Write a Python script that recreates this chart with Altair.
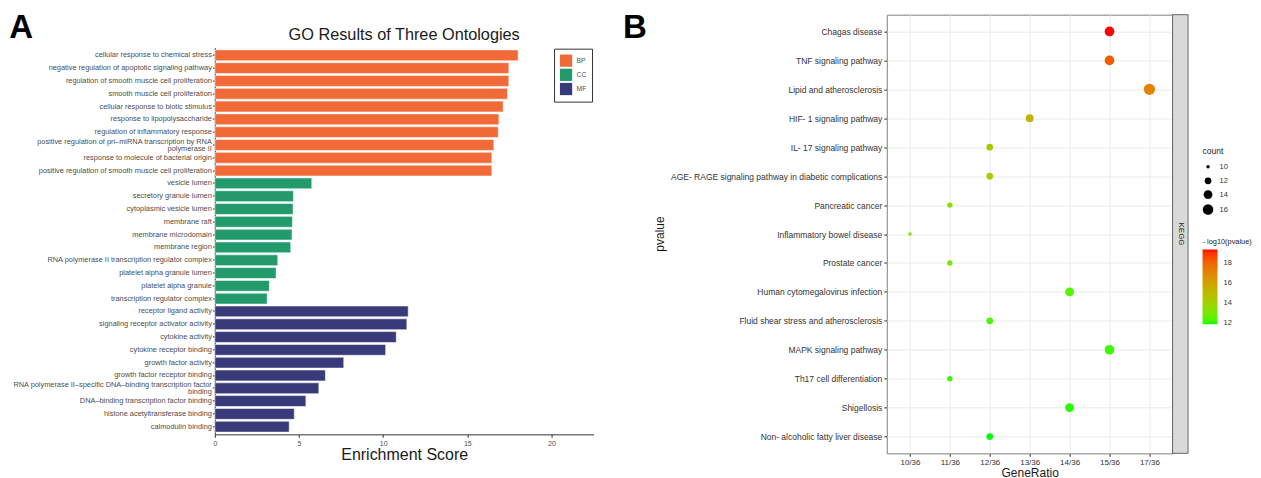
import altair as alt
import pandas as pd

# ---------------- Panel A: GO enrichment ----------------
go_terms = [
    "cellular response to chemical stress",
    "negative regulation of apoptotic signaling pathway",
    "regulation of smooth muscle cell proliferation",
    "smooth muscle cell proliferation",
    "cellular response to biotic stimulus",
    "response to lipopolysaccharide",
    "regulation of inflammatory response",
    "positive regulation of pri–miRNA transcription by RNA\npolymerase II",
    "response to molecule of bacterial origin",
    "positive regulation of smooth muscle cell proliferation",
    "vesicle lumen",
    "secretory granule lumen",
    "cytoplasmic vesicle lumen",
    "membrane raft",
    "membrane microdomain",
    "membrane region",
    "RNA polymerase II transcription regulator complex",
    "platelet alpha granule lumen",
    "platelet alpha granule",
    "transcription regulator complex",
    "receptor ligand activity",
    "signaling receptor activator activity",
    "cytokine activity",
    "cytokine receptor binding",
    "growth factor activity",
    "growth factor receptor binding",
    "RNA polymerase II–specific DNA–binding transcription factor\nbinding",
    "DNA–binding transcription factor binding",
    "histone acetyltransferase binding",
    "calmodulin binding",
]
go_scores = [18.02, 17.47, 17.47, 17.39, 17.13, 16.88, 16.84, 16.58, 16.46, 16.46,
             5.76, 4.67, 4.65, 4.61, 4.59, 4.51, 3.74, 3.64, 3.24, 3.11,
             11.49, 11.41, 10.78, 10.15, 7.66, 6.57, 6.18, 5.41, 4.72, 4.42]
go_ontology = ["BP", "BP", "BP", "BP", "BP", "BP", "BP", "BP", "BP", "BP",
               "CC", "CC", "CC", "CC", "CC", "CC", "CC", "CC", "CC", "CC",
               "MF", "MF", "MF", "MF", "MF", "MF", "MF", "MF", "MF", "MF"]
ont_levels = ["BP", "CC", "MF"]
ont_colors = ["#F26A38", "#229A6C", "#393A79"]
go_ticks = [0, 5, 10, 15, 20]

# ---------------- Panel B: KEGG dot plot ----------------
kegg_terms = [
    "Chagas disease",
    "TNF signaling pathway",
    "Lipid and atherosclerosis",
    "HIF- 1 signaling pathway",
    "IL- 17 signaling pathway",
    "AGE- RAGE signaling pathway in diabetic complications",
    "Pancreatic cancer",
    "Inflammatory bowel disease",
    "Prostate cancer",
    "Human cytomegalovirus infection",
    "Fluid shear stress and atherosclerosis",
    "MAPK signaling pathway",
    "Th17 cell differentiation",
    "Shigellosis",
    "Non- alcoholic fatty liver disease",
]
kegg_ratio = ["15/36", "15/36", "17/36", "13/36", "12/36", "12/36", "11/36", "10/36",
              "11/36", "14/36", "12/36", "15/36", "11/36", "14/36", "12/36"]
kegg_count = [15, 15, 17, 13, 12, 12, 11, 10, 11, 14, 12, 15, 11, 14, 12]
kegg_logp = [19.33, 18.2, 17.1, 15.2, 14.3, 14.2, 13.3, 12.9, 12.8, 12.35,
             12.2, 12.1, 12.05, 11.95, 11.83]
ratio_levels = ["10/36", "11/36", "12/36", "13/36", "14/36", "15/36", "17/36"]
count_legend_values = [10, 12, 14, 16]
logp_legend_values = [12, 14, 16, 18]

FONT = "Liberation Sans"

# ---------------- Build panel A ----------------
A_W, A_H = 379, 420
A_TOP = 33  # space above the bars inside the panel (title area)
df_a = pd.DataFrame({"term": go_terms, "score": go_scores, "ont": go_ontology})

bars = alt.Chart(df_a).mark_bar(stroke="white", strokeWidth=0.7, strokeOpacity=0.8).encode(
    x=alt.X("score:Q",
            scale=alt.Scale(domain=[0, 22.5], nice=False, zero=True),
            axis=alt.Axis(values=go_ticks, title="Enrichment Score", grid=False,
                          titleFontSize=16, titleFontWeight="normal", titleColor="#1A1A1A",
                          titlePadding=0, labelFontSize=7, labelColor="#4D4D4D",
                          labelPadding=2, tickSize=3, tickColor="#333333",
                          domainColor="#333333", labelFlush=False)),
    y=alt.Y("term:N", sort=go_terms,
            scale=alt.Scale(paddingInner=0.15, paddingOuter=0.175, range=[A_TOP, A_H]),
            axis=alt.Axis(title=None, grid=False,
                          labelExpr="split(datum.label, '\\n')",
                          labelOffset={"condition": {"test": "indexof(datum.value, '\\n') >= 0",
                                                     "value": -3},
                                       "value": 0},
                          labelFontSize=7.4, labelColor="#4D4D4D", labelLimit=400,
                          labelLineHeight=7, labelPadding=1, tickSize=2.5,
                          tickColor="#333333", domainColor="#333333")),
    color=alt.Color("ont:N",
                    scale=alt.Scale(domain=ont_levels, range=ont_colors),
                    legend=alt.Legend(title=None, orient="none", legendX=339.5, legendY=34,
                                      strokeColor="#333333", padding=5.5,
                                      symbolType="square", symbolSize=150,
                                      symbolStrokeWidth=0, labelFontSize=6.8,
                                      labelColor="#4D4D4D", labelOffset=4,
                                      rowPadding=1.2)),
)

a_title_df = pd.DataFrame({"t": ["GO Results of Three Ontologies"]})
a_title = alt.Chart(a_title_df).mark_text(
    fontSize=16.3, font=FONT, color="#1A1A1A", align="center", baseline="alphabetic"
).encode(text="t:N", x=alt.value(A_W / 2), y=alt.value(25))

a_letter_df = pd.DataFrame({"t": ["A"]})
a_letter = alt.Chart(a_letter_df).mark_text(
    fontSize=33, font=FONT, fontWeight="bold", color="black", align="left",
    baseline="alphabetic"
).encode(text="t:N", x=alt.value(-205.7), y=alt.value(23.3))

panel_a = alt.layer(bars, a_title, a_letter).properties(width=A_W, height=A_H)

# ---------------- Build panel B ----------------
B_W, B_H = 286, 439
df_b = pd.DataFrame({"term": kegg_terms, "ratio": kegg_ratio,
                     "count": kegg_count, "logp": kegg_logp})

dots = alt.Chart(df_b).mark_circle(opacity=1).encode(
    x=alt.X("ratio:O",
            scale=alt.Scale(type="point", domain=ratio_levels, padding=0.58),
            axis=alt.Axis(title="GeneRatio", labelAngle=0, grid=True, gridColor="#EBEBEB",
                          gridWidth=1, domain=False, labelFontSize=8, labelColor="#333333",
                          labelPadding=2, tickSize=3, tickColor="#333333",
                          titleFontSize=12, titleFontWeight="normal", titleColor="#1A1A1A",
                          titlePadding=1.5)),
    y=alt.Y("term:N", sort=kegg_terms,
            scale=alt.Scale(type="point", padding=0.58),
            axis=alt.Axis(title=None, grid=True, gridColor="#EBEBEB", gridWidth=1,
                          domain=False, labelFontSize=8.5, labelColor="#333333",
                          labelLimit=400, labelPadding=2, tickSize=3, tickColor="#333333")),
    color=alt.Color("logp:Q",
                    scale=alt.Scale(domain=[11.83, 19.33], range=["#00FF00", "#FF0000"],
                                    interpolate="lab"),
                    legend=alt.Legend(title="- log10(pvalue)", orient="none", direction="vertical",
                                      legendX=316, legendY=223.5, values=logp_legend_values,
                                      gradientLength=75, gradientThickness=15,
                                      gradientStrokeWidth=0, titleFontSize=7.4,
                                      titleFontWeight="normal", titleColor="#1A1A1A",
                                      titlePadding=4, labelFontSize=7.5, labelColor="#333333",
                                      labelOffset=6)),
    size=alt.Size("count:Q",
                  scale=alt.Scale(domain=[10, 17], range=[12, 127]),
                  legend=alt.Legend(title="count", orient="none", direction="vertical",
                                    legendX=316, legendY=132, values=count_legend_values,
                                    symbolFillColor="black", symbolStrokeWidth=0,
                                    symbolType="circle", titleFontSize=8.5,
                                    titleFontWeight="normal", titleColor="#1A1A1A",
                                    titlePadding=8, labelFontSize=7.5, labelColor="#333333",
                                    labelOffset=6, rowPadding=5)),
)

strip_df = pd.DataFrame({"t": ["KEGG"]})
strip_rect = alt.Chart(strip_df).mark_rect(
    fill="#D9D9D9", stroke="#666666", strokeWidth=1
).encode(x=alt.value(B_W), x2=alt.value(B_W + 15.5), y=alt.value(0), y2=alt.value(B_H))
strip_text = alt.Chart(strip_df).mark_text(
    fontSize=8, font=FONT, color="#1A1A1A", angle=90, align="center", baseline="middle"
).encode(text="t:N", x=alt.value(B_W + 8), y=alt.value(B_H / 2))

ytitle_df = pd.DataFrame({"t": ["pvalue"]})
b_ytitle = alt.Chart(ytitle_df).mark_text(
    fontSize=12, font=FONT, color="#1A1A1A", angle=270, align="center", baseline="middle"
).encode(text="t:N", x=alt.value(-226.5), y=alt.value(B_H / 2))

b_letter_df = pd.DataFrame({"t": ["B"]})
b_letter = alt.Chart(b_letter_df).mark_text(
    fontSize=33, font=FONT, fontWeight="bold", color="black", align="left",
    baseline="alphabetic"
).encode(text="t:N", x=alt.value(-264.1), y=alt.value(23.3))

panel_b = alt.layer(dots, strip_rect, strip_text, b_ytitle, b_letter).properties(
    width=B_W, height=B_H,
    view=alt.ViewBackground(stroke="#7F7F7F", strokeWidth=1)
)

chart = alt.hconcat(panel_a, panel_b, spacing=27.5).resolve_scale(
    color="independent", size="independent"
).resolve_legend(
    color="independent", size="independent"
).properties(
    padding={"left": 0, "top": 2.5, "right": 0, "bottom": 0}
).configure(font=FONT).configure_view(stroke="transparent")

chart.save("out.html", embed_options={"renderer": "svg", "actions": False})
